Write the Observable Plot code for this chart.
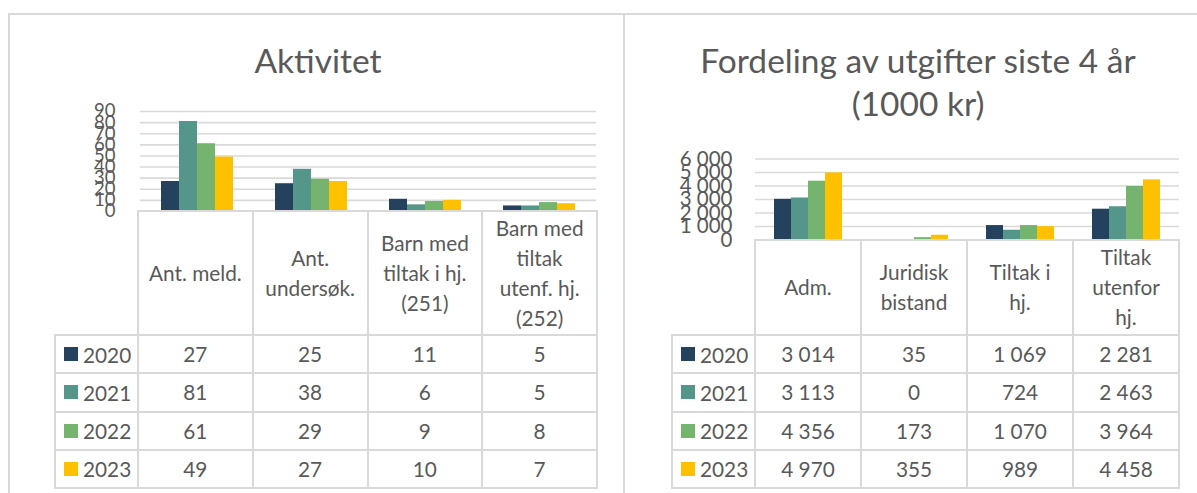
<!DOCTYPE html>
<html><head><meta charset="utf-8">
<script src="https://cdn.jsdelivr.net/npm/d3@7"></script>
<script src="https://cdn.jsdelivr.net/npm/@observablehq/plot@0.6"></script>
<style>
html,body{margin:0;padding:0;background:#fff;}
body{width:1197px;height:493px;overflow:hidden;position:relative;font-family:Lato,sans-serif;color:#595959;}
.panel{position:absolute;border:2px solid #d9d9d9;box-sizing:border-box;}
.title{position:absolute;text-align:center;font-size:33.5px;line-height:43px;white-space:nowrap;transform:translateX(-50%);}
.hl{position:absolute;height:2px;background:#d9d9d9;}
.vl{position:absolute;width:2px;background:#d9d9d9;}
.cell{position:absolute;display:flex;align-items:center;justify-content:center;text-align:center;font-size:20.8px;line-height:30px;white-space:pre-line;}
.leg{position:absolute;display:flex;align-items:center;font-size:20.8px;}
.sw{width:14px;height:14px;margin-right:5px;flex:none;}
svg{position:absolute;top:0;overflow:visible;}
</style></head><body>
<script>
// ---- data ----
const years = ["2020", "2021", "2022", "2023"];
const yearColors = ["#24425e", "#55968a", "#75b46f", "#ffc000"];

const actTitle = ["Aktivitet"];
const actCats = ["Ant. meld.", "Ant.\nundersøk.", "Barn med\ntiltak i hj.\n(251)", "Barn med\ntiltak\nutenf. hj.\n(252)"];
const act2020 = [27, 25, 11, 5];
const act2021 = [81, 38, 6, 5];
const act2022 = [61, 29, 9, 8];
const act2023 = [49, 27, 10, 7];
const actTicks = [0, 10, 20, 30, 40, 50, 60, 70, 80, 90];

const expTitle = ["Fordeling av utgifter siste 4 år", "(1000 kr)"];
const expCats = ["Adm.", "Juridisk\nbistand", "Tiltak i\nhj.", "Tiltak\nutenfor\nhj."];
const exp2020 = [3014, 35, 1069, 2281];
const exp2021 = [3113, 0, 724, 2463];
const exp2022 = [4356, 173, 1070, 3964];
const exp2023 = [4970, 355, 989, 4458];
const expTicks = [0, 1000, 2000, 3000, 4000, 5000, 6000];

// ---- helpers ----
const nb = d3.formatLocale({decimal: ",", thousands: "\u00a0", grouping: [3], currency: ["", " kr"]});
const fmt = nb.format(",d");

function el(cls, style, text) {
  const d = document.createElement("div");
  d.className = cls;
  Object.assign(d.style, style);
  if (text != null) d.textContent = text;
  document.body.appendChild(d);
  return d;
}

function drawChart(cfg) {
  const series = [cfg.s0, cfg.s1, cfg.s2, cfg.s3];
  const rows = [];
  years.forEach((yr, i) => cfg.cats.forEach((c, j) => rows.push({cat: c, year: yr, value: series[i][j]})));

  const marginBottom = 2;
  const plot = Plot.plot({
    width: cfg.svgW,
    height: cfg.base + marginBottom,
    marginLeft: cfg.plotL - cfg.svgX,
    marginRight: cfg.svgX + cfg.svgW - cfg.plotR,
    marginTop: cfg.topY,
    marginBottom,
    style: {background: "transparent", color: "#595959", fontFamily: "Lato, sans-serif", fontSize: cfg.tickFont + "px"},
    fx: {domain: cfg.cats, padding: 0, axis: null, label: null},
    x: {domain: years, paddingInner: 0, paddingOuter: 1.1, axis: null, label: null},
    y: {domain: [0, d3.max(cfg.ticks)], axis: null, label: null},
    color: {domain: years, range: yearColors},
    marks: [
      Plot.ruleY(cfg.ticks.filter(t => t > 0), {stroke: "#d9d9d9", strokeWidth: 1.6}),
      Plot.barY(rows, {fx: "cat", x: "year", y: "value", fill: "year"}),
      Plot.axisY({ticks: cfg.ticks, tickSize: 0, tickPadding: cfg.tickPad, tickFormat: fmt, label: null, fill: "#595959"})
    ]
  });
  plot.style.left = cfg.svgX + "px";
  document.body.appendChild(plot);

  // title
  cfg.title.forEach((t, k) => el("title", {left: cfg.titleX + "px", top: (cfg.titleY - 21.5 + k * 43) + "px"}, t));

  // data table
  const n = cfg.cats.length;
  const colW = (cfg.plotR - cfg.plotL) / n;
  const colX = j => cfg.plotL + j * colW;
  const headTop = cfg.base, headBot = 335, tableBot = 488;
  const rowH = (tableBot - headBot) / years.length;
  const rowY = i => headBot + i * rowH;

  // lines
  el("hl", {left: (cfg.plotL - 1) + "px", top: (headTop - 1) + "px", width: (cfg.plotR - cfg.plotL + 2) + "px"});
  for (let i = 0; i <= years.length; i++)
    el("hl", {left: (cfg.legL - 1) + "px", top: (rowY(i) - 1) + "px", width: (cfg.plotR - cfg.legL + 2) + "px"});
  el("vl", {left: (cfg.legL - 1) + "px", top: (headBot - 1) + "px", height: (tableBot - headBot + 2) + "px"});
  for (let j = 0; j <= n; j++)
    el("vl", {left: (colX(j) - 1) + "px", top: (headTop - 1) + "px", height: (tableBot - headTop + 2) + "px"});

  // header cells
  cfg.cats.forEach((c, j) => el("cell", {left: colX(j) + "px", top: headTop + "px", width: colW + "px", height: (headBot - headTop) + "px"}, c));
  // legend + values
  years.forEach((yr, i) => {
    const lg = el("leg", {left: (cfg.legL + 9) + "px", top: rowY(i) + "px", height: rowH + "px"});
    const sw = document.createElement("div"); sw.className = "sw"; sw.style.background = yearColors[i];
    const tx = document.createElement("span"); tx.textContent = yr;
    lg.appendChild(sw); lg.appendChild(tx);
    cfg.cats.forEach((c, j) => el("cell", {left: colX(j) + "px", top: rowY(i) + "px", width: colW + "px", height: rowH + "px"}, fmt(series[i][j])));
  });
}

// panels
el("panel", {left: "8px", top: "13px", width: "617px", height: "520px"});
el("panel", {left: "623px", top: "13px", width: "620px", height: "520px"});

drawChart({
  title: actTitle, titleX: 318, titleY: 60,
  cats: actCats, s0: act2020, s1: act2021, s2: act2022, s3: act2023, ticks: actTicks,
  svgX: 0, svgW: 620, plotL: 138, plotR: 597, topY: 111, base: 211,
  tickFont: 18.5, tickPad: 25, legL: 55
});
drawChart({
  title: expTitle, titleX: 918, titleY: 60,
  cats: expCats, s0: exp2020, s1: exp2021, s2: exp2022, s3: exp2023, ticks: expTicks,
  svgX: 626, svgW: 571, plotL: 755, plotR: 1179, topY: 158.5, base: 239.5,
  tickFont: 20.5, tickPad: 23, legL: 672
});
</script>
</body></html>
